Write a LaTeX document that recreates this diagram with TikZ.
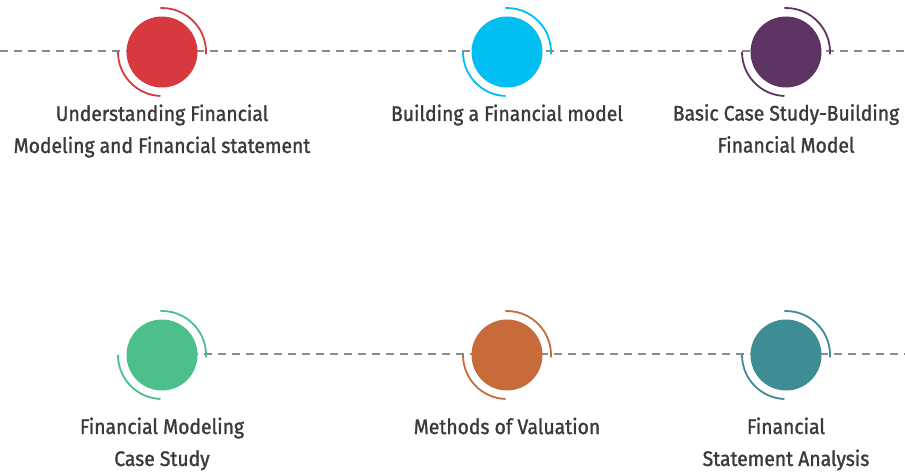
\documentclass[tikz,border=0pt]{standalone}
\usepackage{fontspec}
\setmainfont[FakeStretch=0.92,FakeBold=1.3]{Fira Sans}
\usetikzlibrary{backgrounds}
\definecolor{cred}{HTML}{D63A3F}
\definecolor{cblue}{HTML}{00BFF0}
\definecolor{cpurple}{HTML}{5E3462}
\definecolor{cgreen}{HTML}{4CBF8A}
\definecolor{corange}{HTML}{C76B3B}
\definecolor{cteal}{HTML}{3E8C94}
\definecolor{ctext}{HTML}{3A3A3A}
\definecolor{cdash}{HTML}{8A8A8A}
\tikzset{
  dot/.style={circle, fill=#1, minimum size=71pt, inner sep=0pt},
  lbl/.style={align=center, text=ctext, font=\fontsize{21}{32}\selectfont},
  dashline/.style={draw=cdash, line width=1.8pt, dash pattern=on 8pt off 6pt},
  ring/.style={draw=#1, line width=1.8pt}
}
\newcommand{\rings}[2]{%
  \draw[ring=#2] ([shift={(92:44pt)}]#1.center) arc (92:-3:44pt);
  \draw[ring=#2] ([shift={(180:44pt)}]#1.center) arc (180:268:44pt);
}
\begin{document}
\begin{tikzpicture}[x=1pt,y=1pt]
\useasboundingbox (0,0) rectangle (905,472);
\node[dot=cred] (c1) at (162,420) {};
\node[dot=cblue] (c2) at (507,420) {};
\node[dot=cpurple] (c3) at (786,420) {};
\node[dot=cgreen] (c4) at (162,117) {};
\node[dot=corange] (c5) at (507,117) {};
\node[dot=cteal] (c6) at (786,117) {};
\coordinate (tl) at (0,421);
\coordinate (tr) at (905,421);
\coordinate (bl) at (162,118);
\coordinate (br) at (905,118);
\begin{scope}[on background layer]
\draw[dashline] (tl) -- (tr);
\draw[dashline] (bl) -- (br);
\end{scope}
\rings{c1}{cred}
\rings{c2}{cblue}
\rings{c3}{cpurple}
\rings{c4}{cgreen}
\rings{c5}{corange}
\rings{c6}{cteal}
\node[lbl] (t1) at (162,341) {Understanding Financial\\Modeling and Financial statement};
\node[lbl] (t2) at (507,357) {Building a Financial model};
\node[lbl] (t3) at (786,343.5) {Basic Case Study-Building\\Financial Model};
\node[lbl] (t4) at (162,28) {Financial Modeling\\Case Study};
\node[lbl] (t5) at (507,46) {Methods of Valuation};
\node[lbl] (t6) at (786,28) {Financial\\Statement Analysis};
\end{tikzpicture}
\end{document}
